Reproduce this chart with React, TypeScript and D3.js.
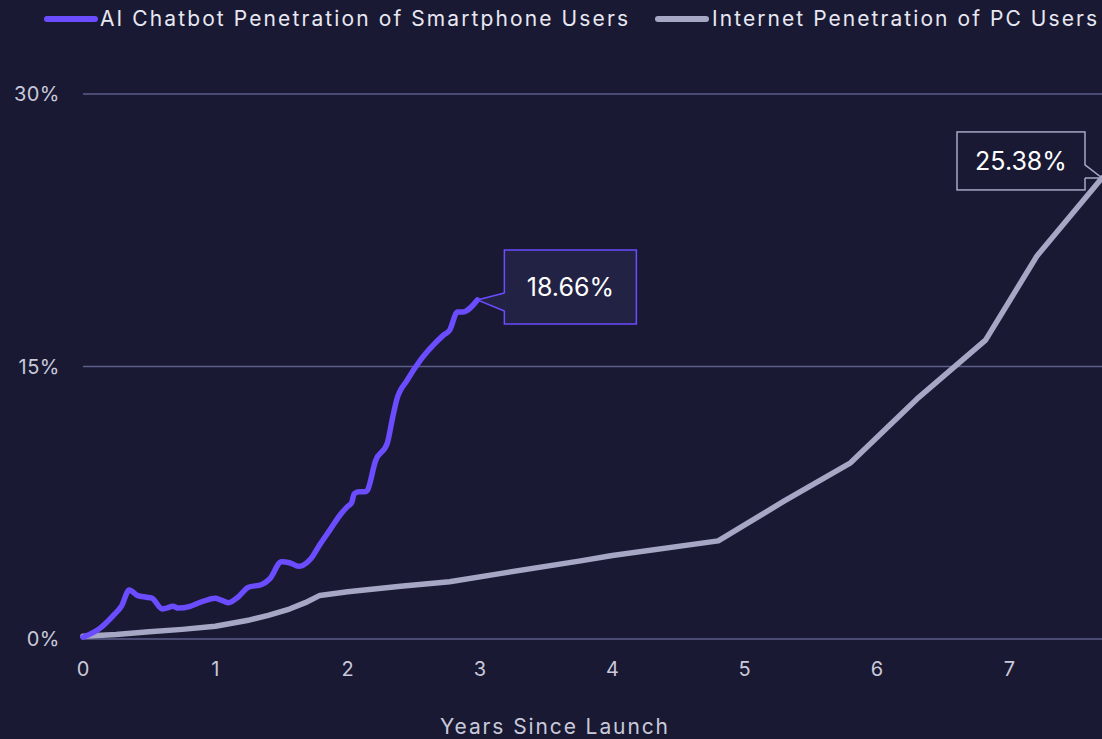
import React from "react";
import * as d3 from "d3";

const aiYears = [0, 0.13, 0.23, 0.29, 0.35, 0.41, 0.48, 0.52, 0.6, 0.63, 0.68, 0.72, 0.81, 0.88, 1.0, 1.04, 1.1, 1.17, 1.25, 1.35, 1.41, 1.5, 1.56, 1.63, 1.66, 1.72, 1.79, 1.87, 1.94, 2.0, 2.03, 2.05, 2.09, 2.13, 2.15, 2.21, 2.3, 2.34, 2.37, 2.45, 2.55, 2.65, 2.72, 2.77, 2.83, 2.87, 2.98];
const aiValues = [0.1, 0.6, 1.3, 1.8, 2.7, 2.4, 2.3, 2.25, 1.65, 1.7, 1.8, 1.7, 1.8, 2.0, 2.25, 2.15, 2.0, 2.3, 2.85, 3.0, 3.3, 4.25, 4.2, 4.0, 4.05, 4.4, 5.2, 6.05, 6.8, 7.3, 7.5, 8.0, 8.1, 8.1, 8.2, 9.8, 10.8, 12.2, 13.15, 14.25, 15.35, 16.2, 16.7, 17.0, 18.0, 18.0, 18.66];

const pcYears = [0, 0.25, 0.5, 0.75, 1.0, 1.26, 1.4, 1.56, 1.68, 1.79, 2.0, 2.4, 2.77, 3.15, 3.76, 4.0, 4.8, 5.3, 5.8, 6.3, 6.82, 7.21, 7.7];
const pcValues = [0.15, 0.25, 0.4, 0.53, 0.7, 1.05, 1.3, 1.65, 2.0, 2.4, 2.6, 2.9, 3.15, 3.6, 4.3, 4.6, 5.4, 7.6, 9.7, 13.2, 16.45, 21.1, 25.38];

const xTicks = [0, 1, 2, 3, 4, 5, 6, 7];
const yTicks = [0, 15, 30];
const seriesNames = ["AI Chatbot Penetration of Smartphone Users", "Internet Penetration of PC Users"];
const endLabels = ["18.66%", "25.38%"];

const W = 1102;
const H = 739;
const BG = "#191933";
const PURPLE = "#6b4cff";
const GRAY = "#a5a7c4";
const FONT = "Inter, 'Noto Sans', sans-serif";

export default function App() {
  const x = d3.scaleLinear().domain([0, 7.7]).range([83, 1102]);
  const y = d3.scaleLinear().domain([0, 30]).range([639, 94]);
  const aiLine = d3
    .line<[number, number]>()
    .x((d) => x(d[0]))
    .y((d) => y(d[1]))
    .curve(d3.curveMonotoneX);
  const pcLine = d3
    .line<[number, number]>()
    .x((d) => x(d[0]))
    .y((d) => y(d[1]))
    .curve(d3.curveLinear);
  const aiData: [number, number][] = aiYears.map((v, i) => [v, aiValues[i]]);
  const pcData: [number, number][] = pcYears.map((v, i) => [v, pcValues[i]]);

  const aiEnd = aiData[aiData.length - 1];
  const pcEnd = pcData[pcData.length - 1];
  const ax = x(aiEnd[0]);
  const ay = y(aiEnd[1]);
  const px = x(pcEnd[0]);
  const py = y(pcEnd[1]);

  const ab = { x: ax + 27, y: ay - 50, w: 132, h: 74 };
  const pb = { x: px - 145, y: py - 46, w: 128, h: 58 };

  return (
    <div style={{ position: "fixed", left: 0, top: 0, width: W, height: H, background: BG, overflow: "hidden" }}>
      <svg width={W} height={H} style={{ display: "block" }}>
        <rect x={0} y={0} width={W} height={H} fill={BG} />
        {yTicks.map((t) => (
          <g key={t}>
            <line x1={83} x2={1102} y1={y(t)} y2={y(t)} stroke="#5d5e8a" strokeWidth={1.5} />
            <text x={60} y={y(t)} dy="0.35em" textAnchor="end" fill="#c9c9da" fontSize={20} fontFamily={FONT} letterSpacing={0.5}>
              {t}%
            </text>
          </g>
        ))}
        {xTicks.map((t) => (
          <text key={t} x={x(t)} y={676} textAnchor="middle" fill="#c9c9da" fontSize={20} fontFamily={FONT}>
            {t}
          </text>
        ))}
        <text x={440} y={734} fill="#c9c9da" fontSize={21} fontFamily={FONT} textLength={228} lengthAdjust="spacing">
          Years Since Launch
        </text>

        <path d={pcLine(pcData) || ""} fill="none" stroke={GRAY} strokeWidth={5.5} strokeLinejoin="round" strokeLinecap="round" />
        <path d={aiLine(aiData) || ""} fill="none" stroke={PURPLE} strokeWidth={5.5} strokeLinejoin="round" strokeLinecap="round" />

        <rect x={ab.x} y={ab.y} width={ab.w} height={ab.h} fill="#222244" stroke={PURPLE} strokeWidth={1.5} />
        <polygon points={`${ab.x + 1},${ay - 7} ${ax},${ay} ${ab.x + 1},${ay + 11}`} fill="#222244" stroke="none" />
        <polyline points={`${ab.x},${ay - 7} ${ax},${ay} ${ab.x},${ay + 11}`} fill="none" stroke={PURPLE} strokeWidth={1.5} />
        <text x={ab.x + ab.w / 2} y={ab.y + ab.h / 2} dy="0.35em" textAnchor="middle" fill="#ffffff" fontSize={25} fontFamily={FONT}>
          {endLabels[0]}
        </text>

        <rect x={pb.x} y={pb.y} width={pb.w} height={pb.h} fill={BG} stroke={GRAY} strokeWidth={1.5} />
        <polygon points={`${pb.x + pb.w - 1},${py - 13} ${px},${py} ${pb.x + pb.w - 1},${py}`} fill={BG} stroke="none" />
        <polyline points={`${pb.x + pb.w},${py - 13} ${px},${py} ${pb.x + pb.w},${py}`} fill="none" stroke={GRAY} strokeWidth={1.5} />
        <text x={pb.x + pb.w / 2} y={pb.y + pb.h / 2} dy="0.35em" textAnchor="middle" fill="#ffffff" fontSize={25} fontFamily={FONT}>
          {endLabels[1]}
        </text>

        <line x1={47} x2={95} y1={19} y2={19} stroke={PURPLE} strokeWidth={6} strokeLinecap="round" />
        <text x={100} y={19} dy="0.35em" fill="#e8e8f2" fontSize={21} fontFamily={FONT} textLength={528} lengthAdjust="spacing">
          {seriesNames[0]}
        </text>
        <line x1={658} x2={706} y1={19} y2={19} stroke={GRAY} strokeWidth={6} strokeLinecap="round" />
        <text x={712} y={19} dy="0.35em" fill="#e8e8f2" fontSize={21} fontFamily={FONT} textLength={385} lengthAdjust="spacing">
          {seriesNames[1]}
        </text>
      </svg>
    </div>
  );
}
